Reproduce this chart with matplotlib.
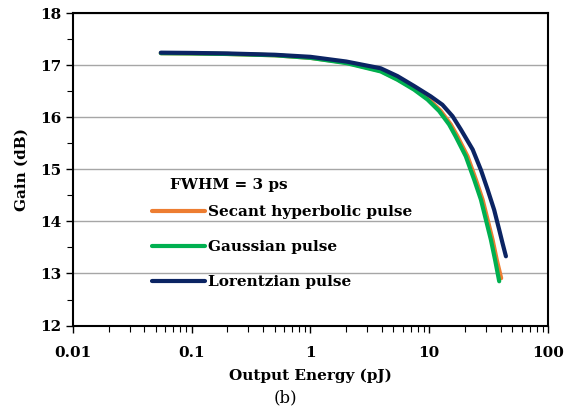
import matplotlib.pyplot as plt
from matplotlib.ticker import LogLocator, NullFormatter, MultipleLocator

plt.rcParams['font.family'] = ['DejaVu Serif']

# datos (energia de salida en pJ, ganancia en dB)
e_sech = [0.055, 0.1, 0.2, 0.5, 1, 2, 3.9, 5.4, 7.7, 10.0, 12.5, 15.2, 17.3, 21.0, 24.7, 28.1, 31.0, 34.1, 37.1, 40.3]
g_sech = [17.23, 17.225, 17.215, 17.19, 17.14, 17.05, 16.89, 16.73, 16.53, 16.34, 16.12, 15.86, 15.63, 15.25, 14.80, 14.42, 14.03, 13.65, 13.25, 12.91]

e_gauss = [0.055, 0.1, 0.2, 0.5, 1, 2, 3.9, 5.4, 7.45, 9.66, 12.1, 14.7, 16.7, 20.3, 23.9, 27.2, 30.0, 33.0, 35.9, 38.8]
g_gauss = [17.23, 17.225, 17.215, 17.19, 17.14, 17.04, 16.88, 16.72, 16.53, 16.34, 16.12, 15.86, 15.63, 15.25, 14.80, 14.42, 14.03, 13.65, 13.25, 12.85]

e_lor = [0.055, 0.1, 0.2, 0.5, 1, 2, 3.9, 5.4, 7.45, 10.3, 12.9, 15.7, 18.5, 23.2, 27.2, 31.0, 35.2, 38.8, 41.4, 44.2]
g_lor = [17.24, 17.235, 17.225, 17.20, 17.16, 17.07, 16.94, 16.79, 16.60, 16.40, 16.24, 16.02, 15.76, 15.38, 14.99, 14.61, 14.22, 13.84, 13.58, 13.33]

labels = ['Secant hyperbolic pulse', 'Gaussian pulse', 'Lorentzian pulse']
colors = ['#ED7D31', '#00B050', '#0B2463']

fig = plt.figure(figsize=(5.65, 4.09), dpi=100)
ax = fig.add_axes([0.129, 0.204, 0.841, 0.764])

ax.plot(e_sech, g_sech, color=colors[0], lw=3, label=labels[0], solid_capstyle='round', solid_joinstyle='round')
ax.plot(e_gauss, g_gauss, color=colors[1], lw=3, label=labels[1], solid_capstyle='round', solid_joinstyle='round')
ax.plot(e_lor, g_lor, color=colors[2], lw=3, label=labels[2], solid_capstyle='round', solid_joinstyle='round')

ax.set_xscale('log')
ax.set_xlim(0.01, 100)
ax.set_ylim(12, 18)
ax.set_xticks([0.01, 0.1, 1, 10, 100])
ax.set_xticklabels(['0.01', '0.1', '1', '10', '100'])
ax.xaxis.set_minor_locator(LogLocator(base=10, subs=range(2, 10)))
ax.xaxis.set_minor_formatter(NullFormatter())
ax.yaxis.set_major_locator(MultipleLocator(1))
ax.yaxis.set_minor_locator(MultipleLocator(0.5))

ax.grid(axis='y', which='major', color='#A6A6A6', lw=1)
ax.set_axisbelow(True)
for s in ax.spines.values():
    s.set_linewidth(1.5)

ax.tick_params(which='major', direction='out', length=5, width=1, labelsize=11)
ax.tick_params(which='minor', direction='out', length=4, width=0.8)
ax.tick_params(axis='x', which='major', pad=10)
for lab in ax.get_xticklabels() + ax.get_yticklabels():
    lab.set_fontweight('bold')

ax.set_xlabel('Output Energy (pJ)', fontsize=11, fontweight='bold', labelpad=6)
ax.set_ylabel('Gain (dB)', fontsize=11, fontweight='bold', labelpad=8)
fig.text(0.505, 0.027, '(b)', ha='center', va='center', fontsize=12)

ax.text(0.205, 0.45, 'FWHM = 3 ps', transform=ax.transAxes, fontsize=11,
        fontweight='bold', va='center', ha='left')
leg = ax.legend(loc='upper left', bbox_to_anchor=(0.166, 0.385), frameon=False,
                borderpad=0, borderaxespad=0, handlelength=3.47, handletextpad=0.2,
                labelspacing=1.38, prop={'size': 11, 'weight': 'bold'})

plt.savefig('out.png', dpi=100)
